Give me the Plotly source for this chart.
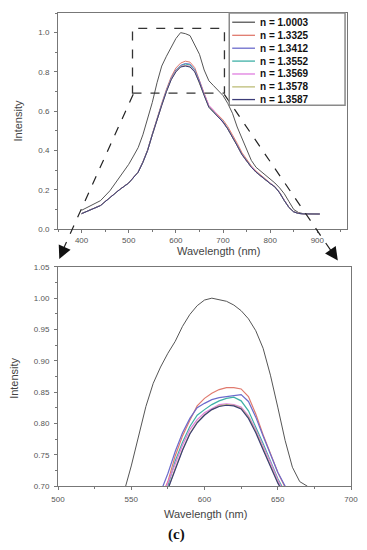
import plotly.graph_objects as go

# ---------------- data ----------------
names = ["n = 1.0003", "n = 1.3325", "n = 1.3412", "n = 1.3552",
         "n = 1.3569", "n = 1.3578", "n = 1.3587"]
colors = ["#555555", "#e07a6e", "#6b6bcc", "#3fb0a6",
          "#e07ee0", "#bdbd78", "#3c3c78"]

wl_top = [400, 420, 440, 460, 480, 500, 510, 520, 530, 540, 550, 560, 570, 580,
          590, 600, 610, 620, 630, 640, 650, 660, 670, 680, 690, 700, 710, 720,
          730, 740, 750, 760, 770, 780, 790, 800, 810, 820, 830, 840, 850, 860,
          870, 880, 890, 905]

top_10003 = [0.096, 0.12, 0.145, 0.195, 0.26, 0.33, 0.372, 0.415, 0.48, 0.56, 0.645,
             0.745, 0.83, 0.88, 0.922, 0.97, 1.0, 0.995, 0.985, 0.94, 0.89, 0.81,
             0.755, 0.73, 0.705, 0.68, 0.64, 0.59, 0.52, 0.46, 0.40, 0.35, 0.315,
             0.295, 0.275, 0.255, 0.235, 0.21, 0.18, 0.14, 0.10, 0.085, 0.079,
             0.078, 0.078, 0.078]
top_13325 = [0.079, 0.10, 0.121, 0.161, 0.201, 0.236, 0.262, 0.292, 0.343, 0.404, 0.485,
             0.567, 0.64, 0.712, 0.775, 0.82, 0.845, 0.855, 0.85, 0.822, 0.762, 0.692,
             0.628, 0.603, 0.58, 0.556, 0.522, 0.482, 0.437, 0.39, 0.354, 0.322, 0.296,
             0.274, 0.253, 0.235, 0.217, 0.187, 0.147, 0.111, 0.089, 0.081, 0.078,
             0.077, 0.077, 0.077]
top_13412 = [0.079, 0.10, 0.12, 0.16, 0.20, 0.235, 0.261, 0.291, 0.341, 0.402, 0.482,
             0.563, 0.635, 0.706, 0.768, 0.81, 0.834, 0.843, 0.84, 0.812, 0.754, 0.686,
             0.624, 0.598, 0.572, 0.547, 0.512, 0.472, 0.427, 0.382, 0.347, 0.317, 0.291,
             0.271, 0.251, 0.233, 0.216, 0.186, 0.146, 0.11, 0.088, 0.08, 0.078,
             0.077, 0.077, 0.077]
top_13552 = [0.079, 0.10, 0.12, 0.16, 0.20, 0.235, 0.26, 0.29, 0.34, 0.401, 0.481,
             0.562, 0.633, 0.704, 0.765, 0.806, 0.831, 0.84, 0.836, 0.808, 0.75, 0.684,
             0.623, 0.597, 0.571, 0.546, 0.511, 0.471, 0.426, 0.381, 0.346, 0.316, 0.29,
             0.27, 0.25, 0.232, 0.215, 0.185, 0.145, 0.11, 0.088, 0.08, 0.078,
             0.077, 0.077, 0.077]
top_13569 = [0.079, 0.10, 0.12, 0.16, 0.20, 0.235, 0.26, 0.29, 0.34, 0.40, 0.48,
             0.56, 0.631, 0.702, 0.763, 0.804, 0.829, 0.834, 0.829, 0.804, 0.748, 0.684,
             0.63, 0.605, 0.575, 0.546, 0.51, 0.47, 0.425, 0.38, 0.345, 0.315, 0.29,
             0.27, 0.25, 0.232, 0.215, 0.185, 0.145, 0.11, 0.088, 0.08, 0.078,
             0.077, 0.077, 0.077]
top_13578 = [0.079, 0.10, 0.12, 0.16, 0.20, 0.235, 0.26, 0.29, 0.34, 0.40, 0.48,
             0.56, 0.63, 0.70, 0.761, 0.802, 0.827, 0.832, 0.827, 0.802, 0.746, 0.681,
             0.621, 0.596, 0.571, 0.545, 0.51, 0.47, 0.425, 0.38, 0.345, 0.315, 0.29,
             0.27, 0.25, 0.232, 0.215, 0.185, 0.145, 0.11, 0.088, 0.08, 0.078,
             0.077, 0.077, 0.077]
top_13587 = [0.079, 0.10, 0.12, 0.16, 0.20, 0.235, 0.26, 0.29, 0.34, 0.40, 0.48,
             0.56, 0.63, 0.70, 0.76, 0.80, 0.825, 0.83, 0.825, 0.80, 0.745, 0.68,
             0.62, 0.595, 0.57, 0.545, 0.51, 0.47, 0.425, 0.38, 0.345, 0.315, 0.29,
             0.27, 0.25, 0.232, 0.215, 0.185, 0.145, 0.11, 0.088, 0.08, 0.078,
             0.077, 0.077, 0.077]

wl_zoom_ref = [540, 545, 550, 555, 560, 565, 570, 575, 580, 585, 590, 595, 600, 605,
               610, 615, 620, 625, 630, 635, 640, 645, 650, 655, 660, 665, 670, 675, 680]
zoom_10003 = [0.66, 0.69, 0.732, 0.78, 0.827, 0.864, 0.89, 0.912, 0.931, 0.955, 0.974,
              0.988, 0.997, 1.0, 0.998, 0.995, 0.989, 0.98, 0.967, 0.948, 0.92, 0.877,
              0.826, 0.773, 0.73, 0.707, 0.70, 0.69, 0.68]

wl_zoom = [565, 570, 575, 580, 585, 590, 595, 600, 605, 610, 615, 620, 625, 630,
           635, 640, 645, 650, 655, 660, 665]
zoom_13325 = [0.655, 0.68, 0.707, 0.748, 0.78, 0.805, 0.828, 0.84, 0.848, 0.854, 0.857,
              0.857, 0.855, 0.843, 0.815, 0.782, 0.752, 0.722, 0.698, 0.67, 0.64]
zoom_13412 = [0.66, 0.69, 0.72, 0.755, 0.785, 0.808, 0.825, 0.832, 0.838, 0.841, 0.843,
              0.844, 0.846, 0.835, 0.81, 0.78, 0.75, 0.722, 0.70, 0.675, 0.65]
zoom_13552 = [0.645, 0.672, 0.70, 0.74, 0.77, 0.795, 0.813, 0.822, 0.83, 0.836, 0.84,
              0.842, 0.836, 0.82, 0.795, 0.768, 0.74, 0.712, 0.69, 0.665, 0.64]
zoom_13569 = [0.65, 0.677, 0.705, 0.735, 0.765, 0.79, 0.806, 0.817, 0.824, 0.83, 0.831,
              0.83, 0.826, 0.812, 0.79, 0.765, 0.738, 0.71, 0.688, 0.665, 0.64]
zoom_13578 = [0.64, 0.668, 0.695, 0.728, 0.758, 0.784, 0.802, 0.814, 0.822, 0.828, 0.83,
              0.829, 0.824, 0.81, 0.787, 0.76, 0.732, 0.706, 0.684, 0.66, 0.635]
zoom_13587 = [0.64, 0.665, 0.695, 0.727, 0.757, 0.783, 0.801, 0.813, 0.822, 0.827, 0.829,
              0.828, 0.823, 0.808, 0.785, 0.758, 0.73, 0.705, 0.683, 0.66, 0.635]

top_series = [top_10003, top_13325, top_13412, top_13552, top_13569, top_13578, top_13587]
zoom_series = [zoom_13325, zoom_13412, zoom_13552, zoom_13569, zoom_13578, zoom_13587]

# ---------------- figure ----------------
W, H = 367, 550
ML, MR, MT, MB = 58, 13, 9, 64
PW, PH = W - ML - MR, H - MT - MB


def px(X):  # page pixel -> paper
    return (X - ML) / PW


def py(Y):
    return (H - MB - Y) / PH


fig = go.Figure()
for name, col, ys in zip(names, colors, top_series):
    fig.add_trace(go.Scatter(x=wl_top, y=ys, mode="lines", name=name,
                             line=dict(color=col, width=1), xaxis="x", yaxis="y",
                             showlegend=False))
fig.add_trace(go.Scatter(x=wl_zoom_ref, y=zoom_10003, mode="lines", name=names[0],
                         line=dict(color=colors[0], width=1), xaxis="x2", yaxis="y2",
                         showlegend=False))
for name, col, ys in zip(names[1:], colors[1:], zoom_series):
    fig.add_trace(go.Scatter(x=wl_zoom, y=ys, mode="lines", name=name,
                             line=dict(color=col, width=1.2), xaxis="x2", yaxis="y2",
                             showlegend=False))

tickfont = dict(family="Liberation Sans, Arial, sans-serif", size=8, color="#555555")
axis_common = dict(showline=True, linecolor="#777777", linewidth=1, mirror=True,
                   ticks="outside", ticklen=3, tickcolor="#777777", tickfont=tickfont,
                   showgrid=False, zeroline=False)

fig.update_layout(
    width=W, height=H,
    margin=dict(l=ML, r=MR, t=MT, b=MB),
    paper_bgcolor="white", plot_bgcolor="white",
    xaxis=dict(domain=[0, px(350)], range=[350, 963], tickmode="linear", tick0=400,
               dtick=100, anchor="y", ticklabelstandoff=0,
               minor=dict(ticks="outside", ticklen=2, dtick=50, tickcolor="#777777"),
               **axis_common),
    yaxis=dict(domain=[py(227), 1], range=[0, 1.1], tickmode="linear", tick0=0,
               dtick=0.2, tickformat=".1f", anchor="x", ticklabelstandoff=3,
               minor=dict(ticks="outside", ticklen=2, dtick=0.1, tickcolor="#777777"),
               **axis_common),
    xaxis2=dict(domain=[0, 1], range=[500, 700], tickmode="linear", tick0=500,
                dtick=50, anchor="y2", ticklabelstandoff=2,
                minor=dict(ticks="outside", ticklen=2, dtick=25, tickcolor="#777777"),
                **axis_common),
    yaxis2=dict(domain=[0, py(265)], range=[0.70, 1.05], tickmode="linear", tick0=0.70,
                dtick=0.05, tickformat=".2f", anchor="x2", ticklabelstandoff=3,
                minor=dict(ticks="outside", ticklen=2, dtick=0.025, tickcolor="#777777"),
                **axis_common),
)

shapes = []
# dashed zoom rectangle on the top panel
shapes.append(dict(type="rect", xref="x", yref="y", x0=508, x1=703, y0=0.692, y1=1.022,
                   line=dict(color="#333333", width=1.3, dash="dash")))
# dashed connector lines
shapes.append(dict(type="line", xref="paper", yref="paper", x0=px(134), y0=py(91),
                   x1=px(62), y1=py(250), line=dict(color="#222222", width=1.2, dash="dash")))
shapes.append(dict(type="line", xref="paper", yref="paper", x0=px(226), y0=py(91),
                   x1=px(336), y1=py(252), line=dict(color="#222222", width=1.2, dash="dash")))

# manual legend
shapes.append(dict(type="rect", xref="paper", yref="paper", x0=px(231), x1=px(348),
                   y0=py(102), y1=py(9), line=dict(color="#8a8a8a", width=1.5),
                   fillcolor="white", layer="above"))
annotations = []
row_y = [18.3, 31.5, 44.5, 57.5, 70.5, 83.5, 96.3]
for name, col, yc in zip(names, colors, row_y):
    shapes.append(dict(type="line", xref="paper", yref="paper", x0=px(234), x1=px(257),
                       y0=py(yc), y1=py(yc), line=dict(color=col, width=1.3)))
    annotations.append(dict(xref="paper", yref="paper", x=px(260), y=py(yc), text=name,
                            showarrow=False, xanchor="left", yanchor="middle",
                            font=dict(family="Liberation Sans, Arial, sans-serif",
                                      size=10, color="#111111", weight="bold")))

# arrowheads
annotations.append(dict(xref="paper", yref="paper", x=px(59.3), y=py(257), text="",
                        showarrow=True, arrowhead=2, arrowsize=2, arrowwidth=1.3,
                        arrowcolor="#111111", ax=5, ay=-11, standoff=0))
annotations.append(dict(xref="paper", yref="paper", x=px(340.7), y=py(258.5), text="",
                        showarrow=True, arrowhead=2, arrowsize=2, arrowwidth=1.3,
                        arrowcolor="#111111", ax=-7, ay=-10, standoff=0))

titlefont = dict(family="Liberation Sans, Arial, sans-serif", size=11, color="#444444")
annotations.append(dict(xref="paper", yref="paper", x=px(220), y=py(249),
                        text="Wavelength (nm)", showarrow=False, font=titlefont,
                        xanchor="center", yanchor="middle"))
annotations.append(dict(xref="paper", yref="paper", x=px(18), y=py(118),
                        text="Intensity", showarrow=False, font=titlefont, textangle=-90,
                        xanchor="center", yanchor="middle"))
annotations.append(dict(xref="paper", yref="paper", x=px(207), y=py(514),
                        text="Wavelength (nm)", showarrow=False, font=titlefont,
                        xanchor="center", yanchor="middle"))
annotations.append(dict(xref="paper", yref="paper", x=px(13.5), y=py(377),
                        text="Intensity", showarrow=False, font=titlefont, textangle=-90,
                        xanchor="center", yanchor="middle"))
annotations.append(dict(xref="paper", yref="paper", x=px(178), y=py(535),
                        text="(c)", showarrow=False,
                        font=dict(family="Liberation Serif, DejaVu Serif, serif", size=15,
                                  color="#111111", weight="bold"),
                        xanchor="center", yanchor="middle"))

fig.update_layout(shapes=shapes, annotations=annotations)
fig.write_html("out.html",
               config={"displayModeBar": False},
               post_script="document.body.style.margin='0px';"
                           "document.body.style.overflow='hidden';")
